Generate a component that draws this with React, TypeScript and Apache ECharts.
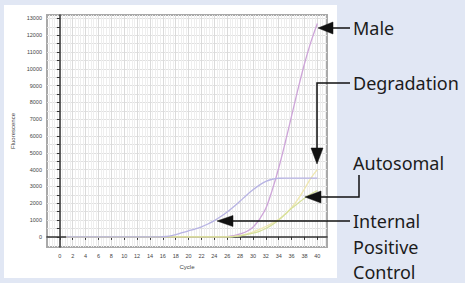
import React, { useEffect, useRef } from "react";
import * as echarts from "echarts";

const cycles = Array.from({ length: 40 }, (_, i) => i + 1);
const ipc = [0,0,0,0,0,0,0,0,0,0,0,0,0,0,0,10,50,140,250,360,470,600,770,970,1210,1480,1790,2130,2480,2800,3080,3300,3430,3490,3500,3500,3500,3500,3500,3500];
const male = [0,0,0,0,0,0,0,0,0,0,0,0,0,0,0,0,0,0,0,0,0,0,0,0,0,20,80,180,320,580,1050,1700,2800,4100,5600,7200,8800,10300,11600,12700];
const autosomal = [0,0,0,0,0,0,0,0,0,0,0,0,0,0,0,0,0,0,0,0,0,0,0,0,0,0,20,60,130,220,330,500,720,1000,1350,1700,2000,2300,2550,2750];
const degradation = [0,0,0,0,0,0,0,0,0,0,0,0,0,0,0,0,0,0,0,0,0,0,0,0,0,0,30,80,170,300,450,620,820,1050,1350,1750,2250,2850,3500,4000];
const yLabels = [0,1000,2000,3000,4000,5000,6000,7000,8000,9000,10000,11000,12000,13000];
const yTicks = [0,500,1000,1500,2000,2500,3000,3500,4000,4500,5000,5500,6000,6500,7000,7500,8000,8500,9000,9500,10000,10500,11000,11500,12000,12500,13000];
const xLabels = [0,2,4,6,8,10,12,14,16,18,20,22,24,26,28,30,32,34,36,38,40];

const pair = (arr: number[]) => cycles.map((c, i) => [c, arr[i]]);

export default function App() {
  const ref = useRef<HTMLDivElement>(null);
  useEffect(() => {
    const chart = echarts.init(ref.current!, null, { renderer: "svg" });
    const font = "Noto Sans";
    const txt = (text: string, x: number, y: number) => ({
      type: "text", x, y, z: 10,
      style: { text, fill: "#1c1c1c", font: `18px "${font}"`, textVerticalAlign: "middle", textAlign: "left" },
    });
    const ln = (pts: number[][]) => ({
      type: "polyline", z: 10, shape: { points: pts },
      style: { stroke: "#111", lineWidth: 1.5, fill: "none", lineDash: "solid" },
    });
    const head = (pts: number[][]) => ({
      type: "polygon", z: 10, shape: { points: pts },
      style: { fill: "#111", stroke: "#111", lineWidth: 0.5, lineDash: "solid" },
    });
    const lineSeries = (name: string, data: number[], color: string) => ({
      name, type: "line", data: pair(data), showSymbol: false, smooth: 0.35,
      lineStyle: { color, width: 1.3 }, z: 3,
    });
    chart.setOption({
      animation: false,
      backgroundColor: "#e1e7f4",
      grid: { left: 47, top: 15, right: 138, bottom: 36, show: true, borderColor: "#a9a9a9", borderWidth: 2, backgroundColor: "transparent" },
      xAxis: {
        type: "value", min: -2, max: 41.5, interval: 2,
        name: "Cycle", nameLocation: "middle", nameGap: 16,
        nameTextStyle: { fontSize: 6, color: "#444", fontFamily: "Liberation Sans" },
        axisLine: { lineStyle: { color: "#333", width: 1.5 } },
        axisTick: { customValues: xLabels, length: 3, lineStyle: { color: "#333" } },
        axisLabel: { customValues: xLabels, fontSize: 5.5, color: "#444", margin: 6, fontFamily: "Liberation Sans", formatter: (v: number) => String(v) },
        splitLine: { show: true, lineStyle: { color: "#dadada", width: 1 } },
        minorTick: { show: false },
        minorSplitLine: { show: true, lineStyle: { color: "#eeeeee", width: 1 } },
      },
      yAxis: {
        type: "value", min: -600, max: 13200,
        name: "Fluorescence", nameLocation: "middle", nameGap: 26,
        nameTextStyle: { fontSize: 6, color: "#444", fontFamily: "Liberation Sans" },
        axisLine: { show: true, lineStyle: { color: "#333", width: 1.5 } },
        axisTick: { show: true, customValues: yTicks, length: 3, lineStyle: { color: "#333" } },
        axisLabel: { customValues: yLabels, fontSize: 5.5, color: "#444", margin: 5, fontFamily: "Liberation Sans", formatter: (v: number) => String(v) },
        splitLine: { show: true, lineStyle: { color: "#e0e0e0", width: 1 } },
      },
      series: [
        lineSeries("Male", male, "#cda4d8"),
        lineSeries("Degradation", degradation, "#efe7b0"),
        lineSeries("Autosomal", autosomal, "#d6e09a"),
        lineSeries("Internal Positive Control", ipc, "#b7b3e3"),
      ],
      graphic: [
        { type: "rect", z: -100, shape: { x: 4, y: 5, width: 333, height: 273 }, style: { fill: "#ffffff" } },
        txt("Male", 353, 28),
        ln([[330, 28], [350, 28]]),
        head([[318, 28], [333, 22], [333, 34]]),
        txt("Degradation", 353, 83),
        ln([[350, 83], [317, 83], [317, 150]]),
        head([[317, 164], [311, 148], [323, 148]]),
        txt("Autosomal", 353, 163),
        ln([[359, 175], [359, 197], [320, 197]]),
        head([[305, 197], [321, 191], [321, 203]]),
        txt("Internal", 353, 221),
        txt("Positive", 353, 247),
        txt("Control", 353, 272),
        ln([[232, 221], [350, 221]]),
        head([[217, 221], [233, 215.5], [233, 226.5]]),
      ],
    });
    return () => chart.dispose();
  }, []);
  return <div ref={ref} style={{ position: "fixed", left: 0, top: 0, width: 465, height: 283 }} />;
}
